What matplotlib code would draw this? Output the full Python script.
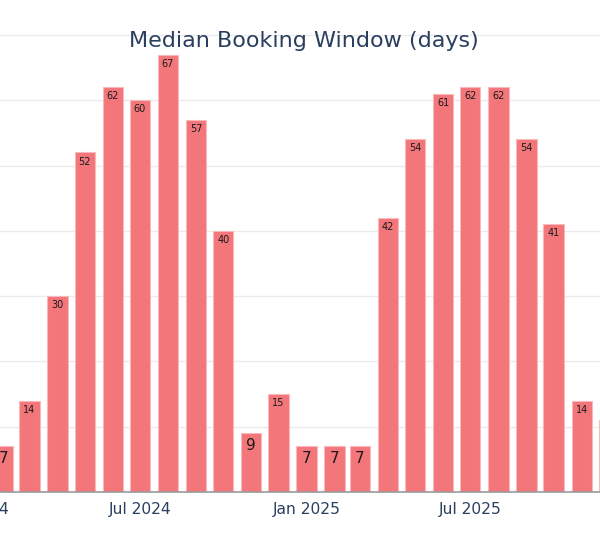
import datetime as dt
import matplotlib
matplotlib.use("Agg")
import matplotlib.pyplot as plt
import matplotlib.dates as mdates

months = ["2024-02", "2024-03", "2024-04", "2024-05", "2024-06", "2024-07",
          "2024-08", "2024-09", "2024-10", "2024-11", "2024-12",
          "2025-01", "2025-02", "2025-03", "2025-04", "2025-05", "2025-06",
          "2025-07", "2025-08", "2025-09", "2025-10", "2025-11", "2025-12"]
median_days = [7, 14, 30, 52, 62, 60, 67, 57, 40, 9, 15,
               7, 7, 7, 42, 54, 61, 62, 62, 54, 41, 14, 11]
tick_dates = ["2024-01", "2024-07", "2025-01", "2025-07"]
tick_labels = ["Jan 2024", "Jul 2024", "Jan 2025", "Jul 2025"]
title = "Median Booking Window (days)"

def to_date(s):
    y, m = s.split("-")
    return dt.datetime(int(y), int(m), 1)

W, H, DPI = 600, 540, 100
fig = plt.figure(figsize=(W / DPI, H / DPI), dpi=DPI)

# axes extends beyond figure on both sides (cropped view)
L_px, R_px = -100, 700
bottom_px, top_px = 492, 0
ax = fig.add_axes([L_px / W, (H - bottom_px) / H, (R_px - L_px) / W, (bottom_px - top_px) / H])

scale = 0.9051  # px per day
ref = mdates.date2num(dt.datetime(2024, 7, 1))
ref_px = 140
xmin = ref + (L_px - ref_px) / scale
xmax = ref + (R_px - ref_px) / scale
vis_min = ref + (0 - ref_px) / scale
vis_max = ref + (W - ref_px) / scale

x = [mdates.date2num(to_date(m)) for m in months]
bars = ax.bar(x, median_days, width=22.4, color="#F3767B",
              edgecolor="#F9B9BC", linewidth=0.8, zorder=3)

for xi, v in zip(x, median_days):
    if not (vis_min <= xi <= vis_max):
        continue  # label falls outside the visible (cropped) region
    txt = str(v)
    if len(txt) == 1:
        ax.annotate(txt, (xi, v), xytext=(0, -9), textcoords="offset points",
                    ha="center", va="center", fontsize=11, color="#1a1a1a", zorder=4)
    else:
        ax.annotate(txt, (xi, v), xytext=(0, -6.5), textcoords="offset points",
                    ha="center", va="center", fontsize=7, color="#1a1a1a", zorder=4)

ax.set_yticks(range(10, 80, 10))
ax.yaxis.grid(True, color="#EBEBEB", linewidth=1, zorder=0)
ax.tick_params(axis="y", left=False, labelleft=False)
ax.set_xticks([mdates.date2num(to_date(d)) for d in tick_dates])
ax.set_xticklabels(tick_labels, fontsize=11.2, color="#2a3f5f")
ax.tick_params(axis="x", length=0, pad=7)
ax.set_xlim(xmin, xmax)
ax.set_ylim(0, 492 / 6.529)
for sp in ["top", "left", "right"]:
    ax.spines[sp].set_visible(False)
ax.spines["bottom"].set_color("#9a9a9a")
ax.spines["bottom"].set_linewidth(1.2)
ax.spines["bottom"].set_zorder(5)

fig.text(303.5 / W, 1 - 47 / H, title, ha="center", va="baseline",
         fontsize=16, color="#2a3f5f")

fig.savefig("out.png", dpi=DPI)
